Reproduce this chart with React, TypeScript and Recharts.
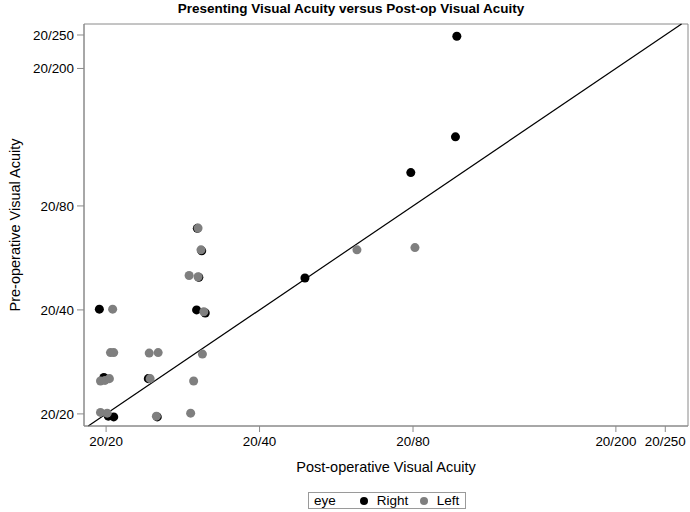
import React from 'react';
import { ScatterChart, Scatter, XAxis, YAxis, ZAxis, ReferenceLine, ReferenceArea, Label } from 'recharts';

const TITLE = 'Presenting Visual Acuity versus Post-op Visual Acuity';
const X_TITLE = 'Post-operative Visual Acuity';
const Y_TITLE = 'Pre-operative Visual Acuity';
const LEGEND_TITLE = 'eye';
const TICKS = [20, 40, 80, 200, 250];
const X_DOMAIN = [18.1, 277];
const Y_DOMAIN = [18.45, 269];
const DIAGONAL = [18.45, 269];

const SERIES_NAMES = ['Right', 'Left'];
const SERIES_COLORS = ['#000000', '#7f7f7f'];

// Snellen denominators (20/x) (with the plot's jitter)
const RIGHT_POST = [97.5, 96.9, 79.2, 49.1, 19.4, 30.1, 31.3, 19.8, 24.2, 20.2, 20.7, 25.2, 30.2, 30.8, 30.4];
const RIGHT_PRE = [248, 126.8, 99.9, 49.5, 40.2, 40.0, 39.2, 25.5, 25.3, 19.7, 19.6, 19.6, 68.9, 59.3, 49.7];

const LEFT_POST = [62.1, 80.7, 20.6, 31.1, 20.4, 20.7, 24.3, 25.3, 30.9, 19.5, 19.9, 20.3, 24.4, 29.7, 19.5, 20.1, 25.1, 29.3, 30.3, 30.7, 29.1, 30.3];
const LEFT_PRE = [59.7, 60.6, 40.2, 39.5, 30.1, 30.1, 30.0, 30.1, 29.8, 24.9, 25.0, 25.3, 25.3, 24.9, 20.2, 20.1, 19.7, 20.1, 69.0, 59.7, 50.3, 49.9];

const rightData = RIGHT_POST.map((x, i) => ({ x, y: RIGHT_PRE[i] }));
const leftData = LEFT_POST.map((x, i) => ({ x, y: LEFT_PRE[i] }));

const FONT = '"Liberation Sans", Arial, sans-serif';
const FRAME = '#8a8a8a';

const fmt = (v: number) => `20/${v}`;

export default function App() {
  return (
    <div style={{ position: 'absolute', left: 0, top: 0, width: 690, height: 512, background: '#fff' }}>
      <div
        style={{
          position: 'absolute',
          left: 6,
          top: 2,
          width: 690,
          textAlign: 'center',
          fontFamily: FONT,
          fontWeight: 'bold',
          fontSize: 13.5,
          lineHeight: '14px',
          color: '#000',
        }}
      >
        {TITLE}
      </div>
      <ScatterChart width={690} height={512} margin={{ top: 24, right: 2, bottom: 0, left: 0 }}>
        <XAxis
          type="number"
          dataKey="x"
          scale="log"
          domain={X_DOMAIN}
          allowDataOverflow
          ticks={TICKS}
          interval={0}
          tickFormatter={fmt}
          height={86}
          tickSize={6}
          tickMargin={4}
          axisLine={{ stroke: FRAME }}
          tickLine={{ stroke: FRAME }}
          tick={{ fill: '#000', fontSize: 13.4, fontFamily: FONT }}
        >
          <Label value={X_TITLE} position="insideTop" offset={36} style={{ fontSize: 14.5, fill: '#000', fontFamily: FONT }} />
        </XAxis>
        <YAxis
          type="number"
          dataKey="y"
          scale="log"
          domain={Y_DOMAIN}
          allowDataOverflow
          ticks={TICKS}
          interval={0}
          tickFormatter={fmt}
          width={84}
          tickSize={7}
          tickMargin={3}
          axisLine={{ stroke: FRAME }}
          tickLine={{ stroke: FRAME }}
          tick={{ fill: '#000', fontSize: 13.4, fontFamily: FONT }}
        >
          <Label
            content={(props: any) => {
              const vb = props.viewBox || { x: 0, y: 24, width: 84, height: 402 };
              const cx = vb.x + 15;
              const cy = vb.y + vb.height / 2;
              return (
                <text
                  x={cx}
                  y={cy}
                  transform={`rotate(-90 ${cx} ${cy})`}
                  textAnchor="middle"
                  dominantBaseline="central"
                  style={{ fontSize: 14.5, fill: '#000', fontFamily: FONT }}
                >
                  {Y_TITLE}
                </text>
              );
            }}
          />
        </YAxis>
        <ZAxis range={[46, 46]} />
        <ReferenceArea
          x1={X_DOMAIN[0]}
          x2={X_DOMAIN[1]}
          y1={Y_DOMAIN[0]}
          y2={Y_DOMAIN[1]}
          fill="none"
          fillOpacity={0}
          stroke={FRAME}
          strokeOpacity={1}
          ifOverflow="visible"
        />
        <ReferenceLine
          segment={[
            { x: DIAGONAL[0], y: DIAGONAL[0] },
            { x: DIAGONAL[1], y: DIAGONAL[1] },
          ]}
          stroke="#000"
          strokeWidth={1.2}
          ifOverflow="visible"
        />
        <Scatter name={SERIES_NAMES[0]} data={rightData} fill={SERIES_COLORS[0]} isAnimationActive={false} />
        <Scatter name={SERIES_NAMES[1]} data={leftData} fill={SERIES_COLORS[1]} isAnimationActive={false} />
      </ScatterChart>
      <div
        style={{
          position: 'absolute',
          left: 308,
          top: 492,
          height: 15,
          border: '1px solid #9a9a9a',
          display: 'flex',
          alignItems: 'center',
          padding: '0 6px 0 5px',
          fontFamily: FONT,
          fontSize: 13.5,
          lineHeight: '15px',
          color: '#000',
          background: '#fff',
        }}
      >
        <span style={{ marginRight: 24 }}>{LEGEND_TITLE}</span>
        {SERIES_NAMES.map((name, i) => (
          <React.Fragment key={name}>
            <span
              style={{
                display: 'inline-block',
                width: 8,
                height: 8,
                borderRadius: 4,
                background: SERIES_COLORS[i],
                marginRight: 9,
              }}
            />
            <span style={{ marginRight: i === 0 ? 11.5 : 0 }}>{name}</span>
          </React.Fragment>
        ))}
      </div>
    </div>
  );
}
